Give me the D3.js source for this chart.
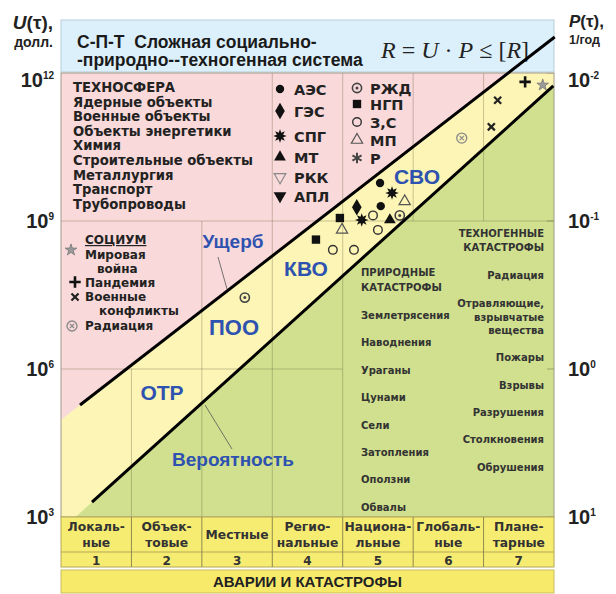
<!DOCTYPE html>
<html>
<head>
<meta charset="utf-8">
<style>
  body { margin: 0; background: #fff; }
  svg { display: block; }
</style>
</head>
<body>
<div id="container"></div>
<script src="https://d3js.org/d3.v7.min.js"></script>
<script>
// ---- data ----
const categories = [["Локаль-", "ные"], ["Объек-", "товые"], ["Местные"], ["Регио-", "нальные"],
                    ["Национа-", "льные"], ["Глобаль-", "ные"], ["Плане-", "тарные"]];
const categoryNumbers = ["1", "2", "3", "4", "5", "6", "7"];
const uTicks = [1e3, 1e6, 1e9, 1e12];
const pTicks = [1e1, 1e0, 1e-1, 1e-2];

// boundary lines, [category position, U]
const upperBound = [[0.27, 10 ** 5.27], [7.01, 10 ** 12.73]];
const lowerBound = [[0.44, 10 ** 3.30], [6.99, 10 ** 11.74]];

// objects of the technosphere, [category position, U, kind]
const techPoints = [
  [4.53, 5.9e9, "АЭС"], [4.70, 3.7e9, "СПГ"], [4.20, 1.9e9, "ГЭС"], [4.54, 2.0e9, "АЭС"],
  [4.43, 1.3e9, "З,С"], [4.27, 1.05e9, "СПГ"], [4.88, 2.5e9, "МП"], [4.81, 1.3e9, "РЖД"],
  [4.67, 1.05e9, "МТ"], [4.50, 6.6e8, "З,С"], [3.96, 1.15e9, "НГП"], [3.99, 6.6e8, "МП"],
  [3.62, 4.2e8, "НГП"], [3.86, 2.6e8, "З,С"], [4.16, 2.6e8, "З,С"], [2.61, 2.8e7, "РЖД"]
];
// society
const socialPoints = [
  [6.59, 6.6e11, "Пандемия"], [6.84, 5.7e11, "Мировая война"],
  [6.20, 2.8e11, "Военные конфликты"], [6.11, 8.1e10, "Военные конфликты"],
  [5.69, 4.8e10, "Радиация"]
];

const technosphere = ["ТЕХНОСФЕРА", "Ядерные объекты", "Военные объекты", "Объекты энергетики",
  "Химия", "Строительные объекты", "Металлургия", "Транспорт", "Трубопроводы"];
const legendA = ["АЭС", "ГЭС", "СПГ", "МТ", "РКК", "АПЛ"];
const legendB = ["РЖД", "НГП", "З,С", "МП", "Р"];
const naturalDisasters = ["Землетрясения", "Наводнения", "Ураганы", "Цунами", "Сели",
  "Затопления", "Оползни", "Обвалы"];
const manmadeDisasters = [["Радиация"], ["Отравляющие,", "взрывчатые", "вещества"], ["Пожары"],
  ["Взрывы"], ["Разрушения"], ["Столкновения"], ["Обрушения"]];

// ---- setup ----
const width = 616, height = 594;
const DEJA = "'DejaVu Sans', sans-serif";
const ARIAL = "'Liberation Sans', Arial, sans-serif";
const BLUE = "#2e52b0";

const x = d3.scaleLinear().domain([0, 7]).range([61, 554]);
const y = d3.scaleLog().domain([1e3, 1e12]).range([517, 73]);
const yP = d3.scaleLog().domain([1e1, 1e-2]).range([517, 73]);

const svg = d3.select("#container").append("svg")
    .attr("width", width)
    .attr("height", height);

// header box
svg.append("rect")
    .attr("x", x(0)).attr("y", 20)
    .attr("width", x(7) - x(0)).attr("height", y(1e12) - 21)
    .attr("fill", "#dcf0fb").attr("stroke", "#b8cdd9");

svg.append("text").attr("x", 77).attr("y", 48)
    .attr("font-family", ARIAL).attr("font-weight", "bold").attr("font-size", 17.5).attr("fill", "#1a1a1a")
    .text("С-П-Т\u00a0\u00a0Сложная социально-");
svg.append("text").attr("x", 77).attr("y", 66)
    .attr("font-family", ARIAL).attr("font-weight", "bold").attr("font-size", 17.5).attr("fill", "#1a1a1a")
    .text("-природно--техногенная система");

const formula = svg.append("text").attr("x", 381).attr("y", 58)
    .attr("font-family", "'Liberation Serif', 'DejaVu Serif', serif").attr("font-size", 24).attr("fill", "#222");
[["R", true], [" = ", false], ["U", true], [" · ", false], ["P", true], [" ≤ [", false], ["R", true], ["]", false]]
  .forEach(([s, it]) => formula.append("tspan").attr("font-style", it ? "italic" : "normal").text(s));

// axis titles
const uTitle = svg.append("text").attr("x", 53).attr("y", 29).attr("text-anchor", "end")
    .attr("font-family", ARIAL).attr("font-weight", "bold").attr("font-size", 19).attr("fill", "#222");
uTitle.append("tspan").attr("font-style", "italic").text("U");
uTitle.append("tspan").text("(τ),");
svg.append("text").attr("x", 53).attr("y", 47).attr("text-anchor", "end")
    .attr("font-family", ARIAL).attr("font-weight", "bold").attr("font-size", 14).attr("fill", "#222")
    .text("долл.");
const pTitle = svg.append("text").attr("x", 569).attr("y", 27)
    .attr("font-family", ARIAL).attr("font-weight", "bold").attr("font-size", 17).attr("fill", "#222");
pTitle.append("tspan").attr("font-style", "italic").text("P");
pTitle.append("tspan").text("(τ),");
svg.append("text").attr("x", 569).attr("y", 44)
    .attr("font-family", ARIAL).attr("font-weight", "bold").attr("font-size", 12.5).attr("fill", "#222")
    .text("1/год");

// ---- plot background regions ----
svg.append("clipPath").attr("id", "plot-clip")
  .append("rect")
    .attr("x", x(0)).attr("y", y(1e12))
    .attr("width", x(7) - x(0)).attr("height", y(1e3) - y(1e12));

const plot = svg.append("g").attr("clip-path", "url(#plot-clip)");
plot.append("rect")
    .attr("x", x(0)).attr("y", y(1e12))
    .attr("width", x(7) - x(0)).attr("height", y(1e3) - y(1e12))
    .attr("fill", "#f9d9d9");

const lineAt = (seg, c) => {
  const [[c0, u0], [c1, u1]] = seg;
  const t = (c - c0) / (c1 - c0);
  return 10 ** (Math.log10(u0) + t * (Math.log10(u1) - Math.log10(u0)));
};
const below = seg => [[-1, lineAt(seg, -1)], [8, lineAt(seg, 8)], [8, 1], [-1, 1]];
const path = d3.line().x(d => x(d[0])).y(d => y(d[1]));

plot.append("path").attr("d", path(below(upperBound)) + "Z").attr("fill", "#fcf5b6");
plot.append("path").attr("d", path(below(lowerBound)) + "Z").attr("fill", "#d0e08e");

// grid
const hGrid = [[1e9, 0, 7], [1e6, 0, 4]];
const vGrid = [[3, 1e9, 1e12], [4, 1e9, 1e12], [5, 1e9, 1e12], [6, 1e9, 1e12],
               [2, 1e6, 1e9], [3, 1e6, 1e9], [4, 1e3, 1e9],
               [1, 1e3, 1e6], [2, 1e3, 1e6], [3, 1e3, 1e6]];
plot.selectAll(".hgrid").data(hGrid).join("line")
    .attr("x1", d => x(d[1])).attr("x2", d => x(d[2]))
    .attr("y1", d => y(d[0])).attr("y2", d => y(d[0]))
    .attr("stroke", "#6b6040").attr("stroke-opacity", 0.35);
plot.selectAll(".vgrid").data(vGrid).join("line")
    .attr("x1", d => x(d[0])).attr("x2", d => x(d[0]))
    .attr("y1", d => y(d[1])).attr("y2", d => y(d[2]))
    .attr("stroke", "#6b6040").attr("stroke-opacity", 0.35);
plot.selectAll(".ptick").data(pTicks).join("line")
    .attr("x1", x(7) - 7).attr("x2", x(7))
    .attr("y1", d => yP(d)).attr("y2", d => yP(d))
    .attr("stroke", "#6b6040").attr("stroke-opacity", 0.5);

svg.append("rect")
    .attr("x", x(0)).attr("y", y(1e12))
    .attr("width", x(7) - x(0)).attr("height", y(1e3) - y(1e12))
    .attr("fill", "none").attr("stroke", "#a09a8a");

// ---- axis labels ----
const powLabel = (g, base, exp) => {
  g.append("tspan").text(base);
  g.append("tspan").attr("font-size", 10).attr("dy", -8).text(exp);
};
uTicks.forEach(t => {
  const g = svg.append("text").attr("x", 54).attr("y", Math.max(y(t), 80) + 7)
      .attr("text-anchor", "end")
      .attr("font-family", ARIAL).attr("font-weight", "bold").attr("font-size", 20).attr("fill", "#222");
  powLabel(g, "10", String(Math.round(Math.log10(t))));
});
pTicks.forEach(t => {
  const g = svg.append("text").attr("x", 568).attr("y", Math.max(yP(t), 80) + 7)
      .attr("font-family", ARIAL).attr("font-weight", "bold").attr("font-size", 20).attr("fill", "#222");
  powLabel(g, "10", String(Math.round(Math.log10(t))));
});

// ---- markers ----
const starburst = { draw(ctx, size) {
  const R = Math.sqrt(size) * 0.62, r = R * 0.5;
  for (let i = 0; i < 16; i++) {
    const a = i * Math.PI / 8, rr = i % 2 ? r : R;
    const px = Math.sin(a) * rr, py = -Math.cos(a) * rr;
    i ? ctx.lineTo(px, py) : ctx.moveTo(px, py);
  }
  ctx.closePath();
}};
const spokes = (n, rot) => ({ draw(ctx, size) {
  const R = Math.sqrt(size) / 2;
  for (let i = 0; i < n; i++) {
    const a = rot + i * Math.PI * 2 / n;
    ctx.moveTo(0, 0); ctx.lineTo(Math.sin(a) * R, -Math.cos(a) * R);
  }
}});
const plusT = spokes(4, 0), timesT = spokes(4, Math.PI / 4), asterT = spokes(6, 0);

function marker(g, kind, px, py) {
  const m = g.append("g").attr("transform", `translate(${px},${py})`);
  const sym = (type, size) => m.append("path").attr("d", d3.symbol(type, size)());
  switch (kind) {
    case "АЭС": sym(d3.symbolCircle, 55).attr("fill", "#111"); break;
    case "ГЭС": sym(d3.symbolDiamond, 80).attr("fill", "#111"); break;
    case "СПГ": sym(starburst, 120).attr("fill", "#111"); break;
    case "МТ": sym(d3.symbolTriangle, 60).attr("fill", "#111"); break;
    case "РКК": sym(d3.symbolTriangle, 60).attr("transform", "rotate(180)")
                  .attr("fill", "none").attr("stroke", "#888").attr("stroke-width", 1.1); break;
    case "АПЛ": sym(d3.symbolTriangle, 70).attr("transform", "rotate(180)").attr("fill", "#111"); break;
    case "РЖД":
      m.append("circle").attr("r", 4.6).attr("fill", "none").attr("stroke", "#444").attr("stroke-width", 1.6);
      m.append("circle").attr("r", 1.5).attr("fill", "#444"); break;
    case "НГП": sym(d3.symbolSquare, 70).attr("fill", "#111"); break;
    case "З,С": m.append("circle").attr("r", 4.3).attr("fill", "none")
                  .attr("stroke", "#333").attr("stroke-width", 1.4); break;
    case "МП": sym(d3.symbolTriangle, 55).attr("fill", "none").attr("stroke", "#555").attr("stroke-width", 1.2); break;
    case "Р": sym(asterT, 110).attr("fill", "none").attr("stroke", "#444").attr("stroke-width", 2); break;
    case "Мировая война": sym(d3.symbolStar, 42).attr("fill", "#9a9a9a").attr("stroke", "#777").attr("stroke-width", 0.8); break;
    case "Пандемия": sym(plusT, 130).attr("stroke", "#111").attr("stroke-width", 2.6); break;
    case "Военные конфликты": sym(timesT, 100).attr("stroke", "#222").attr("stroke-width", 2.2); break;
    case "Радиация":
      m.append("circle").attr("r", 5).attr("fill", "none").attr("stroke", "#888").attr("stroke-width", 1.3);
      sym(timesT, 36).attr("stroke", "#888").attr("stroke-width", 1.2); break;
  }
}

// ---- legends ----
const techText = svg.append("g").attr("font-family", DEJA).attr("font-weight", "bold")
    .attr("font-size", 13.2).attr("fill", "#222");
technosphere.forEach((s, i) => techText.append("text").attr("x", 73).attr("y", 92 + i * 14.6).text(s));

const legendAY = [89, 111, 136, 157, 177, 196];
legendA.forEach((s, i) => {
  marker(svg, s, 280, legendAY[i]);
  svg.append("text").attr("x", 294).attr("y", legendAY[i] + 5.5)
      .attr("font-family", DEJA).attr("font-weight", "bold").attr("font-size", 14.5).attr("fill", "#222").text(s);
});
const legendBY = [88, 104, 122, 140, 158];
legendB.forEach((s, i) => {
  marker(svg, s, 357, legendBY[i]);
  svg.append("text").attr("x", 370).attr("y", legendBY[i] + 5.5)
      .attr("font-family", DEJA).attr("font-weight", "bold").attr("font-size", 14.5).attr("fill", "#222").text(s);
});

const soc = svg.append("g").attr("font-family", DEJA).attr("font-weight", "bold")
    .attr("font-size", 12).attr("fill", "#222");
[["СОЦИУМ", 85, 244], ["Мировая", 85, 259], ["война", 97, 273], ["Пандемия", 85, 287],
 ["Военные", 85, 301], ["конфликты", 99, 315], ["Радиация", 85, 330]]
  .forEach(([s, px, py]) => soc.append("text").attr("x", px).attr("y", py).text(s)
      .attr("text-decoration", s === "СОЦИУМ" ? "underline" : null));
marker(svg, "Мировая война", 71, 250);
marker(svg, "Пандемия", 75, 282);
marker(svg, "Военные конфликты", 75, 297);
marker(svg, "Радиация", 72, 326);

// ---- points ----
techPoints.forEach(d => marker(svg, d[2], x(d[0]), y(d[1])));
socialPoints.forEach(d => marker(svg, d[2], x(d[0]), y(d[1])));

// ---- disaster lists in the green area ----
const dis = svg.append("g").attr("font-family", DEJA).attr("font-weight", "bold")
    .attr("font-size", 10).attr("fill", "#333");
dis.append("text").attr("x", 361).attr("y", 276).text("ПРИРОДНЫЕ");
dis.append("text").attr("x", 361).attr("y", 291).text("КАТАСТРОФЫ");
naturalDisasters.forEach((s, i) => dis.append("text").attr("x", 361).attr("y", 319 + i * 27.4).text(s));
dis.append("text").attr("x", 544).attr("y", 237).attr("text-anchor", "end").text("ТЕХНОГЕННЫЕ");
dis.append("text").attr("x", 544).attr("y", 251).attr("text-anchor", "end").text("КАТАСТРОФЫ");
const manY = [279, 307, 361, 389, 416, 443, 471];
manmadeDisasters.forEach((lines, i) => lines.forEach((s, j) =>
  dis.append("text").attr("x", 544).attr("y", manY[i] + j * 13.5).attr("text-anchor", "end").text(s)));

// ---- zone labels ----
const zone = svg.append("g").attr("font-family", ARIAL).attr("font-weight", "bold")
    .attr("fill", BLUE).attr("text-anchor", "middle");
[["Ущерб", 233, 248, 19], ["ПОО", 234, 335, 22], ["ОТР", 162, 400, 21],
 ["Вероятность", 233, 466, 19], ["КВО", 306, 276, 21], ["СВО", 417, 184, 21]]
  .forEach(([s, px, py, fs]) => zone.append("text").attr("x", px).attr("y", py).attr("font-size", fs).text(s));
svg.append("line").attr("x1", 218).attr("y1", 257).attr("x2", 227).attr("y2", 289)
    .attr("stroke", "#555").attr("stroke-width", 0.8);
svg.append("line").attr("x1", 205).attr("y1", 405).attr("x2", 232).attr("y2", 449)
    .attr("stroke", "#555").attr("stroke-width", 0.8);

// ---- boundary lines ----
svg.append("path").attr("d", path(upperBound)).attr("stroke", "#000").attr("stroke-width", 3).attr("fill", "none");
svg.append("path").attr("d", path(lowerBound)).attr("stroke", "#000").attr("stroke-width", 3).attr("fill", "none");

// ---- bottom scale table ----
const tbl = svg.append("g");
tbl.append("rect").attr("x", x(0)).attr("y", 517).attr("width", x(7) - x(0)).attr("height", 50)
    .attr("fill", "#f7ec72").attr("stroke", "#b3a855");
tbl.append("line").attr("x1", x(0)).attr("x2", x(7)).attr("y1", 552).attr("y2", 552).attr("stroke", "#b3a855");
tbl.selectAll(".col").data(d3.range(1, 7)).join("line")
    .attr("x1", d => x(d)).attr("x2", d => x(d)).attr("y1", 517).attr("y2", 567)
    .attr("stroke", "#8f8a50");
categories.forEach((lines, i) => {
  const cx = x(i + 0.5);
  const y0 = lines.length === 1 ? 539 : 531;
  lines.forEach((s, j) => tbl.append("text").attr("x", cx).attr("y", y0 + j * 16)
      .attr("text-anchor", "middle").attr("font-family", DEJA).attr("font-weight", "bold")
      .attr("font-size", 12.3).attr("fill", "#333").text(s));
});
categoryNumbers.forEach((s, i) => tbl.append("text").attr("x", x(i + 0.5)).attr("y", 565)
    .attr("text-anchor", "middle").attr("font-family", DEJA).attr("font-weight", "bold")
    .attr("font-size", 12).attr("fill", "#333").text(s));

tbl.append("rect").attr("x", x(0)).attr("y", 570).attr("width", x(7) - x(0)).attr("height", 23)
    .attr("fill", "#f7ea6a").attr("stroke", "#c8bc60");
tbl.append("text").attr("x", x(3.5)).attr("y", 587).attr("text-anchor", "middle")
    .attr("font-family", ARIAL).attr("font-weight", "bold").attr("font-size", 15).attr("fill", "#222")
    .text("АВАРИИ И КАТАСТРОФЫ");
</script>
</body>
</html>
